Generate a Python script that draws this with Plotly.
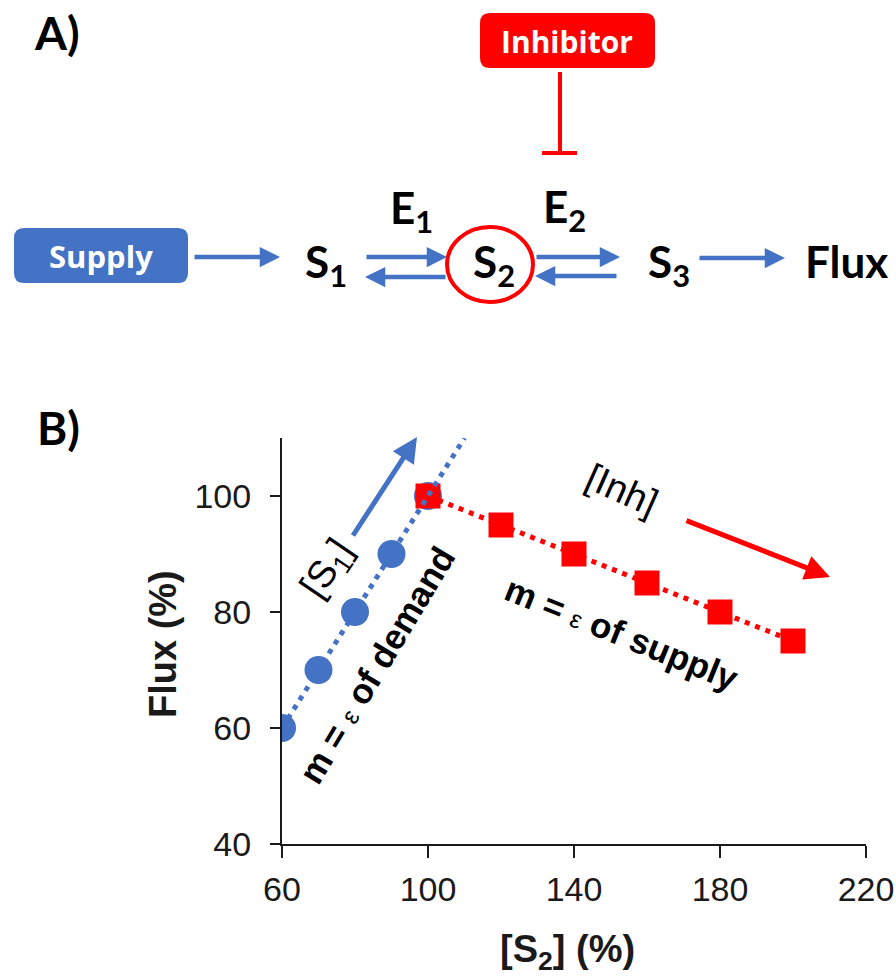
import numpy as np
import plotly.graph_objects as go

# ---- data: panel B ----
s2_demand = [60, 70, 80, 90, 100]        # [S2] (%) while [S1] rises
flux_demand = [60, 70, 80, 90, 100]      # Flux (%)
s2_supply = [100, 120, 140, 160, 180, 200]  # [S2] (%) while [Inh] rises
flux_supply = [100, 95, 90, 85, 80, 75]     # Flux (%)
x_ticks = [60, 100, 140, 180, 220]
y_ticks = [40, 60, 80, 100]
trend_x_end = 110

BLUE = "#4472C4"
RED = "#FF0000"
INK = "#1a1a1a"
W, H = 896, 977


def fx(px):
    return px / W


def fy(py):
    return 1 - py / H


# linear trend through the demand points, extended past the last point
slope, icpt = np.polyfit(s2_demand, flux_demand, 1)
trend_x = [s2_demand[0], trend_x_end]
trend_y = [slope * v + icpt for v in trend_x]

fig = go.Figure()
fig.add_trace(go.Scatter(
    x=s2_demand, y=flux_demand, mode="markers",
    marker=dict(symbol="circle", size=28, color=BLUE), showlegend=False))
fig.add_trace(go.Scatter(
    x=s2_supply, y=flux_supply, mode="lines+markers",
    line=dict(color=RED, width=5, dash="5px,6px"),
    marker=dict(symbol="square", size=25, color=RED), showlegend=False))
fig.add_trace(go.Scatter(
    x=trend_x, y=trend_y, mode="lines",
    line=dict(color=BLUE, width=5, dash="5px,6px"), showlegend=False))

axis_font = dict(family="Liberation Sans, Arial, sans-serif", size=34, color=INK)
fig.update_layout(
    width=W, height=H,
    margin=dict(l=0, r=0, t=0, b=0, pad=0, autoexpand=False),
    paper_bgcolor="white", plot_bgcolor="white",
    xaxis=dict(domain=[fx(282), fx(866)], range=[60, 220],
               tickvals=x_ticks, ticktext=[str(v) for v in x_ticks],
               showline=True, linecolor=INK, linewidth=2,
               ticks="outside", ticklen=12, tickwidth=2, tickcolor=INK,
               showgrid=False, zeroline=False, tickfont=axis_font,
               ticklabelstandoff=2, anchor="y", automargin=False),
    yaxis=dict(domain=[fy(844), fy(438)], range=[40, 110],
               tickvals=y_ticks, ticktext=[str(v) for v in y_ticks],
               showline=True, linecolor=INK, linewidth=2,
               ticks="outside", ticklen=10, tickwidth=2, tickcolor=INK,
               showgrid=False, zeroline=False, tickfont=axis_font,
               ticklabelstandoff=12, anchor="x", automargin=False),
)

shapes = []
annotations = []

LABEL_FONT = "Lato, Open Sans, sans-serif"


def text(px, py, s, size, color="black", family=LABEL_FONT, xanchor="center",
         angle=0):
    annotations.append(dict(
        x=fx(px), y=fy(py), xref="paper", yref="paper", text=s,
        showarrow=False, xanchor=xanchor, yanchor="middle", textangle=angle,
        font=dict(family=family, size=size, color=color)))


def arrow(x0, y0, x1, y1, color, width=4.5, size=0.9):
    annotations.append(dict(
        x=fx(x1), y=fy(y1), xref="paper", yref="paper",
        ax=x0 - x1, ay=y0 - y1, axref="pixel", ayref="pixel",
        text="", showarrow=True, arrowhead=2, arrowsize=size,
        arrowwidth=width, arrowcolor=color, standoff=0, startstandoff=0))


def rounded_box(x0, y0, x1, y1, r, color):
    ax0, ax1 = fx(x0), fx(x1)
    ay0, ay1 = fy(y1), fy(y0)
    rx, ry = r / W, r / H
    path = (f"M{ax0 + rx},{ay0} L{ax1 - rx},{ay0} Q{ax1},{ay0} {ax1},{ay0 + ry} "
            f"L{ax1},{ay1 - ry} Q{ax1},{ay1} {ax1 - rx},{ay1} "
            f"L{ax0 + rx},{ay1} Q{ax0},{ay1} {ax0},{ay1 - ry} "
            f"L{ax0},{ay0 + ry} Q{ax0},{ay0} {ax0 + rx},{ay0} Z")
    shapes.append(dict(type="path", path=path, xref="paper", yref="paper",
                       fillcolor=color, line=dict(width=0)))


def seg(x0, y0, x1, y1, color, width):
    shapes.append(dict(type="line", xref="paper", yref="paper",
                       x0=fx(x0), y0=fy(y0), x1=fx(x1), y1=fy(y1),
                       line=dict(color=color, width=width)))


# ---- panel A: pathway diagram ----
text(57, 33, "<b>A)</b>", 46)
text(58, 427, "<b>B)</b>", 46)

rounded_box(14, 228, 188, 283, 10, BLUE)
text(101, 256, "<b>Supply</b>", 31, "white", "Open Sans, sans-serif")

rounded_box(480, 13, 655, 68, 10, RED)
text(567, 41, "<b>Inhibitor</b>", 30, "white", "Open Sans, sans-serif")

seg(560, 72, 560, 153, RED, 4)
seg(542, 153, 577, 153, RED, 4)

shapes.append(dict(type="circle", xref="paper", yref="paper",
                   x0=fx(447), x1=fx(533), y0=fy(302), y1=fy(227),
                   line=dict(color=RED, width=4)))

text(303, 264, "<b>S<sub>1</sub></b>", 44, xanchor="left")
text(471, 264, "<b>S<sub>2</sub></b>", 44, xanchor="left")
text(646, 264, "<b>S<sub>3</sub></b>", 44, xanchor="left")
text(388, 210, "<b>E<sub>1</sub></b>", 44, xanchor="left")
text(541, 209, "<b>E<sub>2</sub></b>", 44, xanchor="left")
text(803, 261, "<b>Flux</b>", 44, xanchor="left")

arrow(193, 257, 280, 257, BLUE)
arrow(365, 257, 447, 257, BLUE)
arrow(447, 277, 365, 277, BLUE)
arrow(535, 257, 620, 257, BLUE)
arrow(618, 276, 535, 276, BLUE)
arrow(698, 258, 785, 258, BLUE)

# ---- panel B: axis titles, labels and direction arrows ----
AX = "Liberation Sans, Arial, sans-serif"
text(163, 644, "<b>Flux (%)</b>", 38, INK, AX, angle=-90)
text(567, 952, "<b>[S<sub>2</sub>] (%)</b>", 38, INK, AX)

arrow(352, 537, 417, 437, BLUE, width=5, size=1)
arrow(685, 520, 830, 577, RED, width=5, size=1)

eps = '<span style="font-size:25px;font-weight:normal">\u03b5</span>'
text(328, 570, "[S<sub>1</sub>]", 38, "black", AX, angle=-56)
text(376, 665, f"<b>m = {eps} of demand</b>", 35, "black", AX, angle=-59)
text(622, 490, "[Inh]", 38, "black", AX, angle=24)
text(622, 633, f"<b>m = {eps} of supply</b>", 35, "black", AX, angle=22)

fig.update_layout(shapes=shapes, annotations=annotations)
fig.write_html("out.html")
